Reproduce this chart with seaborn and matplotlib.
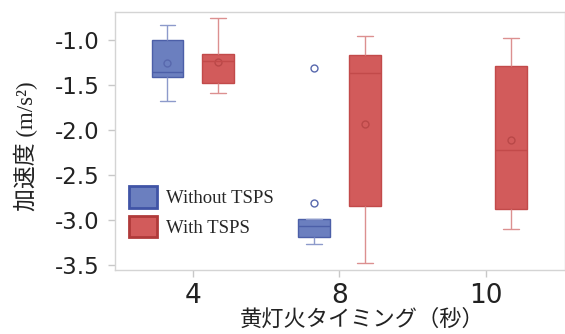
import numpy as np
import pandas as pd
import matplotlib
matplotlib.use('Agg')
import matplotlib.pyplot as plt
from matplotlib.patches import Patch
import seaborn as sns

# 値
timings = ['4', '8', '10']
groups = ['Without TSPS', 'With TSPS']

# Without TSPS (4, 8)
wo_timing = ['4', '8']
wo_low = [-1.674, -3.27]
wo_q1 = [-1.407, -3.19]
wo_med = [-1.36, -3.07]
wo_q3 = [-1.0, -2.993]
wo_high = [-0.833, -2.993]
wo_mean = [-1.25, -2.815]
wo_outlier = [None, -1.307]

# With TSPS (4, 8, 10)
w_timing = ['4', '8', '10']
w_low = [-1.589, -3.474, -3.104]
w_q1 = [-1.474, -2.848, -2.881]
w_med = [-1.23, -1.363, -2.222]
w_q3 = [-1.159, -1.167, -1.289]
w_high = [-0.753, -0.952, -0.98]
w_mean = [-1.244, -1.93, -2.115]

rows = []
means = []
outliers = []
for g, tm, lo, a, m, b, hi, mu in [
        ('Without TSPS', wo_timing, wo_low, wo_q1, wo_med, wo_q3, wo_high, wo_mean),
        ('With TSPS', w_timing, w_low, w_q1, w_med, w_q3, w_high, w_mean)]:
    for i, t in enumerate(tm):
        for v in [lo[i], a[i], m[i], b[i], hi[i]]:
            rows.append({'timing': t, 'group': g, 'acc': v})
        means.append({'timing': t, 'group': g, 'acc': mu[i]})
for i, t in enumerate(wo_timing):
    if wo_outlier[i] is not None:
        outliers.append({'timing': t, 'group': 'Without TSPS', 'acc': wo_outlier[i]})

df = pd.DataFrame(rows)
df_mean = pd.DataFrame(means)
df_out = pd.DataFrame(outliers)

fill = {'Without TSPS': '#6b7fbf', 'With TSPS': '#d25b5b'}
edge = {'Without TSPS': '#4c5fa8', 'With TSPS': '#c24a4a'}
whisk = {'Without TSPS': '#8d9acb', 'With TSPS': '#dc9090'}
mark = {'Without TSPS': '#5868ad', 'With TSPS': '#b94848'}

sns.set_style('white')
plt.rcParams['font.family'] = ['DejaVu Sans', 'Noto Sans CJK JP']

fig = plt.figure(figsize=(5.65, 3.34), dpi=100)
ax = fig.add_axes([0.2035, 0.1916, 0.7965, 0.7724])

sns.boxplot(data=df, x='timing', y='acc', hue='group', order=timings, hue_order=groups,
            palette=fill, width=0.694, gap=0.372, showfliers=False, whis=1.5,
            linewidth=1.0, saturation=1, legend=False, ax=ax)

# 箱の枠線
for patch in ax.patches:
    fc = matplotlib.colors.to_hex(patch.get_facecolor())
    for g in groups:
        if fc == fill[g]:
            patch.set_edgecolor(edge[g])

# boxplot の線: 各箱 = whisker2, cap2, median の順
lines = list(ax.lines)
box_groups = [('Without TSPS', n) for n in range(len(wo_timing))] + [('With TSPS', n) for n in range(len(w_timing))]
for k, (g, n) in enumerate(box_groups):
    seg = lines[k * 5:(k + 1) * 5]
    for j, ln in enumerate(seg):
        ln.set_color(whisk[g] if j < 4 else edge[g])

sns.pointplot(data=df_mean, x='timing', y='acc', hue='group', order=timings, hue_order=groups,
              palette=mark, dodge=0.347, errorbar=None, linestyle='none', markers='o',
              markersize=5, markerfacecolor='none', markeredgewidth=1.0, legend=False, ax=ax)
sns.pointplot(data=df_out, x='timing', y='acc', hue='group', order=timings, hue_order=groups,
              palette=mark, dodge=0.347, errorbar=None, linestyle='none', markers='o',
              markersize=5, markerfacecolor='none', markeredgewidth=1.0, legend=False, ax=ax)

ax.set_xlim(-0.532, 2.54)
ax.set_ylim(-3.556, -0.689)
ax.set_yticks([-1.0, -1.5, -2.0, -2.5, -3.0, -3.5])
ax.set_yticklabels(['-1.0', '-1.5', '-2.0', '-2.5', '-3.0', '-3.5'])

for s in ax.spines.values():
    s.set_color('#d4d4d4')
    s.set_linewidth(1.0)
ax.tick_params(axis='y', left=True, length=5, width=1, color='#c8c8c8', pad=6,
               labelsize=16.5, labelcolor='#222222')
ax.tick_params(axis='x', bottom=True, length=5, width=1, color='#c8c8c8', pad=4,
               labelsize=19, labelcolor='#222222')

ax.set_xlabel('黄灯火タイミング（秒）', fontsize=16, family=['Noto Sans CJK JP'], color='#222222')
ax.xaxis.set_label_coords((362 - 115) / 450, -(308 - 270) / 258)
ax.set_ylabel('加速度 (m/s²)', fontsize=16.5, family=['Liberation Serif', 'Noto Sans CJK JP'],
              color='#222222')
ax.yaxis.set_label_coords(-(115 - 38) / 450, (270 - 146) / 258)

handles = [Patch(facecolor=fill['Without TSPS'], edgecolor='#4054a6', linewidth=2, label='Without TSPS'),
           Patch(facecolor=fill['With TSPS'], edgecolor='#b03a3a', linewidth=2, label='With TSPS')]
ax.legend(handles=handles, loc='lower left', bbox_to_anchor=((129 - 115) / 450, (270 - 237) / 258),
          frameon=False, borderpad=0, borderaxespad=0, handlelength=1.5, handleheight=1.35,
          handletextpad=0.5, labelspacing=0.45,
          prop={'family': 'Liberation Serif', 'size': 13.5})

fig.savefig('out.png', dpi=100)
